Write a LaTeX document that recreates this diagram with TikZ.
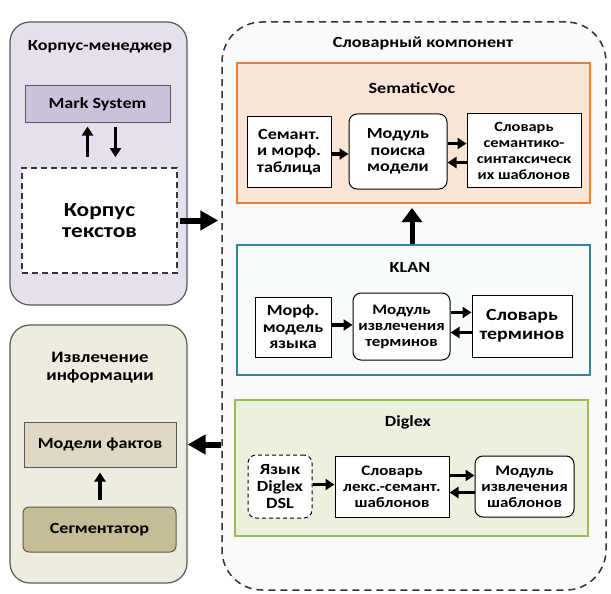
\documentclass[tikz,border=0pt]{standalone}
\usepackage{fontspec}
\setmainfont{Carlito}[FakeStretch=1.17]
\usetikzlibrary{arrows.meta}

\definecolor{lilac}{HTML}{E5E0EC}
\definecolor{lilacdark}{HTML}{CCC1DA}
\definecolor{framegray}{HTML}{595959}
\definecolor{dictbg}{HTML}{F9FAFC}
\definecolor{sembg}{HTML}{FBE5D6}
\definecolor{semline}{HTML}{ED7D31}
\definecolor{klanbg}{HTML}{F7FBFC}
\definecolor{klanline}{HTML}{31849B}
\definecolor{dgbg}{HTML}{EBF1DE}
\definecolor{dgline}{HTML}{9BBB59}
\definecolor{sand}{HTML}{EEECE1}
\definecolor{sandmid}{HTML}{DDD9C4}
\definecolor{sanddark}{HTML}{C4BD97}

\tikzset{
  frame/.style={draw=framegray, line width=1.2pt, rounded corners=20pt, inner sep=0pt},
  group/.style={draw, line width=2pt, inner sep=0pt},
  box/.style={draw, line width=1pt, fill=white, inner sep=2pt},
  rbox/.style={box, rounded corners=8pt},
  arr/.style={line width=3.5pt, -{Triangle[length=9pt,width=11pt]}},
  bigarr/.style={line width=6pt, -{Triangle[length=18pt,width=19pt]}},
}

\begin{document}
\begin{tikzpicture}[x=1pt, y=-1pt, every node/.style={font=\bfseries\fontsize{15.5}{16.7}\selectfont, align=center}]
	\useasboundingbox (0,0) rectangle (611,594);
	% left: corpus manager
	\node[frame, fill=lilac, minimum width=177pt, minimum height=283pt] (mgr) at (98.5,163.5) {};
	\node (mgrtitle) at (100,47) {Корпус-менеджер};
	\node[box, draw=framegray, fill=lilacdark, minimum width=145pt, minimum height=36pt] (mark) at (97.5,104) {Mark System};
	\node[box, dashed, dash pattern=on 6pt off 4pt, line width=1.8pt, draw=framegray!60!black, minimum width=155pt, minimum height=105pt, font=\bfseries\fontsize{20}{21}\selectfont] (korpus) at (99.5,220.5) {Корпус\\текстов};
	\draw[arr, shorten <=10pt, shorten >=4pt] ([xshift=-12pt]korpus.north) -- ([xshift=-12pt]korpus.north |- mark.south);
	\draw[arr, shorten <=4pt, shorten >=10pt] ([xshift=16pt]korpus.north |- mark.south) -- ([xshift=16pt]korpus.north);
	% left: information extraction
	\node[frame, fill=sand, minimum width=177pt, minimum height=258pt] (extr) at (98.5,454) {};
	\node[font=\bfseries\fontsize{16}{18}\selectfont] (extrtitle) at (100,368) {Извлечение\\информации};
	\node[box, draw=framegray, fill=sandmid, minimum width=152pt, minimum height=45pt] (facts) at (100,444.5) {Модели фактов};
	\node[rbox, rounded corners=6pt, draw=framegray, fill=sanddark, minimum width=153pt, minimum height=45pt] (seg) at (99.5,529.5) {Сегментатор};
	\draw[arr, shorten <=7pt, shorten >=5pt] (seg.north -| facts.north) -- (facts.south);
	% right: dictionary component
	\node[draw=black!80, fill=dictbg, dashed, dash pattern=on 7pt off 5pt, line width=1.5pt, rounded corners=40pt, minimum width=384pt, minimum height=568pt, inner sep=0pt] (dict) at (414,306) {};
	\node (dicttitle) at (423,43) {Словарный компонент};
	% SematicVoc
	\node[group, draw=semline, fill=sembg, minimum width=353pt, minimum height=140pt] (sem) at (413.5,133) {};
	\node (semtitle) at (412,88) {SematicVoc};
	\node[box, minimum width=84pt, minimum height=70pt] (semtab) at (289,152) {Семант.\\и морф.\\таблица};
	\node[rbox, minimum width=98pt, minimum height=75pt] (semmod) at (398,151.5) {Модуль\\поиска\\модели};
	\node[box, minimum width=114pt, minimum height=73pt, font=\bfseries\fontsize{14}{16}\selectfont] (semdict) at (524,150.5) {Словарь\\семантико-\\синтаксическ\\их шаблонов};
	\draw[arr] ([yshift=-2pt]semtab.east) -- ([yshift=-2pt]semtab.east -| semmod.west);
	\draw[arr] ([yshift=8pt]semmod.east) -- ([yshift=8pt]semmod.east -| semdict.west);
	\draw[arr] ([yshift=-11pt]semmod.east -| semdict.west) -- ([yshift=-11pt]semmod.east);
	% KLAN
	\node[group, draw=klanline, fill=klanbg, minimum width=353pt, minimum height=130pt] (klan) at (413.5,310) {};
	\node (klantitle) at (410,267) {KLAN};
	\node[box, minimum width=76pt, minimum height=60pt] (klmorph) at (293,327) {Морф.\\модель\\языка};
	\node[rbox, minimum width=97pt, minimum height=67pt, font=\bfseries\fontsize{14.5}{16}\selectfont] (klmod) at (401.5,326.5) {Модуль\\извлечения\\терминов};
	\node[box, minimum width=100pt, minimum height=62pt, font=\bfseries\fontsize{17}{18.5}\selectfont] (kldict) at (522,326) {Словарь\\терминов};
	\draw[arr] ([yshift=2pt]klmorph.east) -- ([yshift=2pt]klmorph.east -| klmod.west);
	\draw[arr] ([yshift=14pt]klmod.east) -- ([yshift=14pt]klmod.east -| kldict.west);
	\draw[arr] ([yshift=-6pt]klmod.east -| kldict.west) -- ([yshift=-6pt]klmod.east);
	\draw[bigarr, line width=5pt, -{Triangle[length=14pt,width=20pt]}, shorten >=4pt] (klan.north -| semtitle) -- (sem.south -| semtitle);
	% Diglex
	\node[group, draw=dgline, fill=dgbg, minimum width=353pt, minimum height=136pt] (dg) at (411.5,468) {};
	\node (dgtitle) at (408,422) {Diglex};
	\node[rbox, dashed, dash pattern=on 4pt off 3pt, minimum width=64pt, minimum height=63pt] (dglang) at (280,486.5) {Язык\\Diglex\\DSL};
	\node[box, minimum width=114pt, minimum height=61pt, font=\bfseries\fontsize{14.5}{16}\selectfont] (dgdict) at (392,486.5) {Словарь\\лекс.-семант.\\шаблонов};
	\node[rbox, minimum width=99pt, minimum height=61pt, font=\bfseries\fontsize{14.5}{16}\selectfont] (dgmod) at (524.5,486.5) {Модуль\\извлечения\\шаблонов};
	\draw[arr] ([yshift=2pt]dglang.east) -- ([yshift=2pt]dglang.east -| dgdict.west);
	\draw[arr] ([yshift=11pt]dgdict.east) -- ([yshift=11pt]dgdict.east -| dgmod.west);
	\draw[arr] ([yshift=-6pt]dgdict.east -| dgmod.west) -- ([yshift=-6pt]dgdict.east);
	% links between components
	\draw[bigarr, shorten <=2pt, shorten >=3pt] (korpus.east) -- (korpus.east -| dict.west);
	\draw[bigarr] (facts.east -| dict.west) -- (facts.east -| extr.east);
\end{tikzpicture}
\end{document}
